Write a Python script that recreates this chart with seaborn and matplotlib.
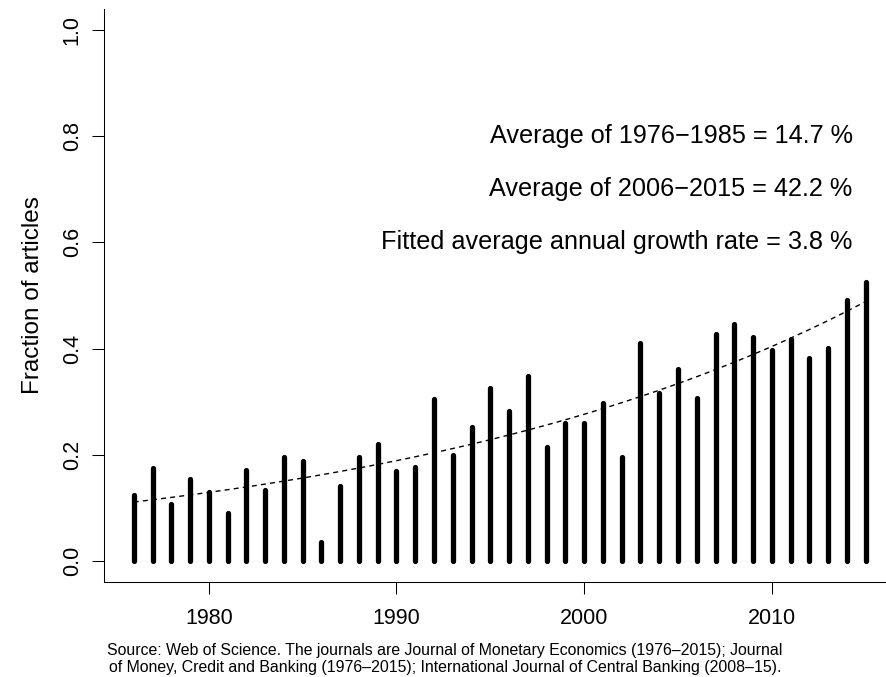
import numpy as np
import pandas as pd
import matplotlib
matplotlib.use("Agg")
import matplotlib.pyplot as plt
import seaborn as sns

# Share of articles per year
years = list(range(1976, 2016))
fraction = [
    0.125, 0.175, 0.108, 0.154, 0.129, 0.090, 0.171, 0.134, 0.195, 0.189,  # 1976-1985
    0.035, 0.141, 0.195, 0.220, 0.170, 0.177, 0.305, 0.199, 0.253, 0.325,  # 1986-1995
    0.283, 0.348, 0.215, 0.259, 0.259, 0.297, 0.195, 0.411, 0.316, 0.362,  # 1996-2005
    0.307, 0.428, 0.447, 0.421, 0.398, 0.418, 0.383, 0.401, 0.492, 0.525,  # 2006-2015
]

# Exponential trend: level in the first year and continuous annual growth rate
fit_start = 0.111
fit_rate = 0.038

x_ticks = [1980, 1990, 2000, 2010]
y_ticks = [0.0, 0.2, 0.4, 0.6, 0.8, 1.0]
y_tick_labels = ["0.0", "0.2", "0.4", "0.6", "0.8", "1.0"]

notes = [
    "Average of 1976−1985 = 14.7 %",
    "Average of 2006−2015 = 42.2 %",
    "Fitted average annual growth rate = 3.8 %",
]
note_y = [0.8, 0.7, 0.6]

y_title = "Fraction of articles"
source = ("Source: Web of Science. The journals are Journal of Monetary Economics (1976–2015); Journal\n"
          "of Money, Credit and Banking (1976–2015); International Journal of Central Banking (2008–15).")

sns.set_theme(style="ticks")
plt.rcParams["font.family"] = ["Liberation Sans", "DejaVu Sans"]

fig = plt.figure(figsize=(8.86, 6.77), dpi=100)
ax = fig.add_axes([0.1179, 0.140, 0.8922, 0.847])

# Vertical spikes from zero to each yearly value
spikes = pd.DataFrame({
    "year": np.repeat(years, 2),
    "fraction": np.ravel([[0.0, f] for f in fraction]),
    "unit": np.repeat(years, 2),
})
sns.lineplot(data=spikes, x="year", y="fraction", units="unit", estimator=None,
             sort=False, color="black", linewidth=3.8, solid_capstyle="round", ax=ax)

# Fitted exponential trend
yrs = np.array(years)
trend = pd.DataFrame({"year": yrs, "trend": fit_start * np.exp(fit_rate * (yrs - years[0]))})
sns.lineplot(data=trend, x="year", y="trend", color="black", linewidth=1.0,
             linestyle=(0, (3.6, 3.0)), ax=ax)

for txt, yy in zip(notes, note_y):
    ax.text(2014.3, yy, txt, ha="right", va="center", fontsize=18.2, color="black")

ax.set_xlim(1974.44, 2016.56)
ax.set_ylim(-0.04, 1.04)
ax.set_xticks(x_ticks)
ax.set_xticklabels([str(t) for t in x_ticks])
ax.set_yticks(y_ticks)
ax.set_yticklabels(y_tick_labels, rotation=90, va="center")

ax.set_xlabel("")
ax.set_ylabel(y_title, fontsize=17.5, va="center", color="black")
ax.yaxis.set_label_coords(-0.09, 0.5)

ax.tick_params(axis="both", length=8.6, width=0.75, colors="black", labelsize=15.5)
ax.tick_params(axis="x", pad=10.0)
ax.tick_params(axis="y", pad=7.0)

sns.despine(ax=ax)
for side in ("left", "bottom"):
    ax.spines[side].set_color("black")
    ax.spines[side].set_linewidth(0.75)

fig.text(445 / 886, 1 - 659 / 677, source, ha="center", va="center",
         ma="center", fontsize=11.4, linespacing=1.18, color="black")

fig.savefig("out.png", dpi=100)
